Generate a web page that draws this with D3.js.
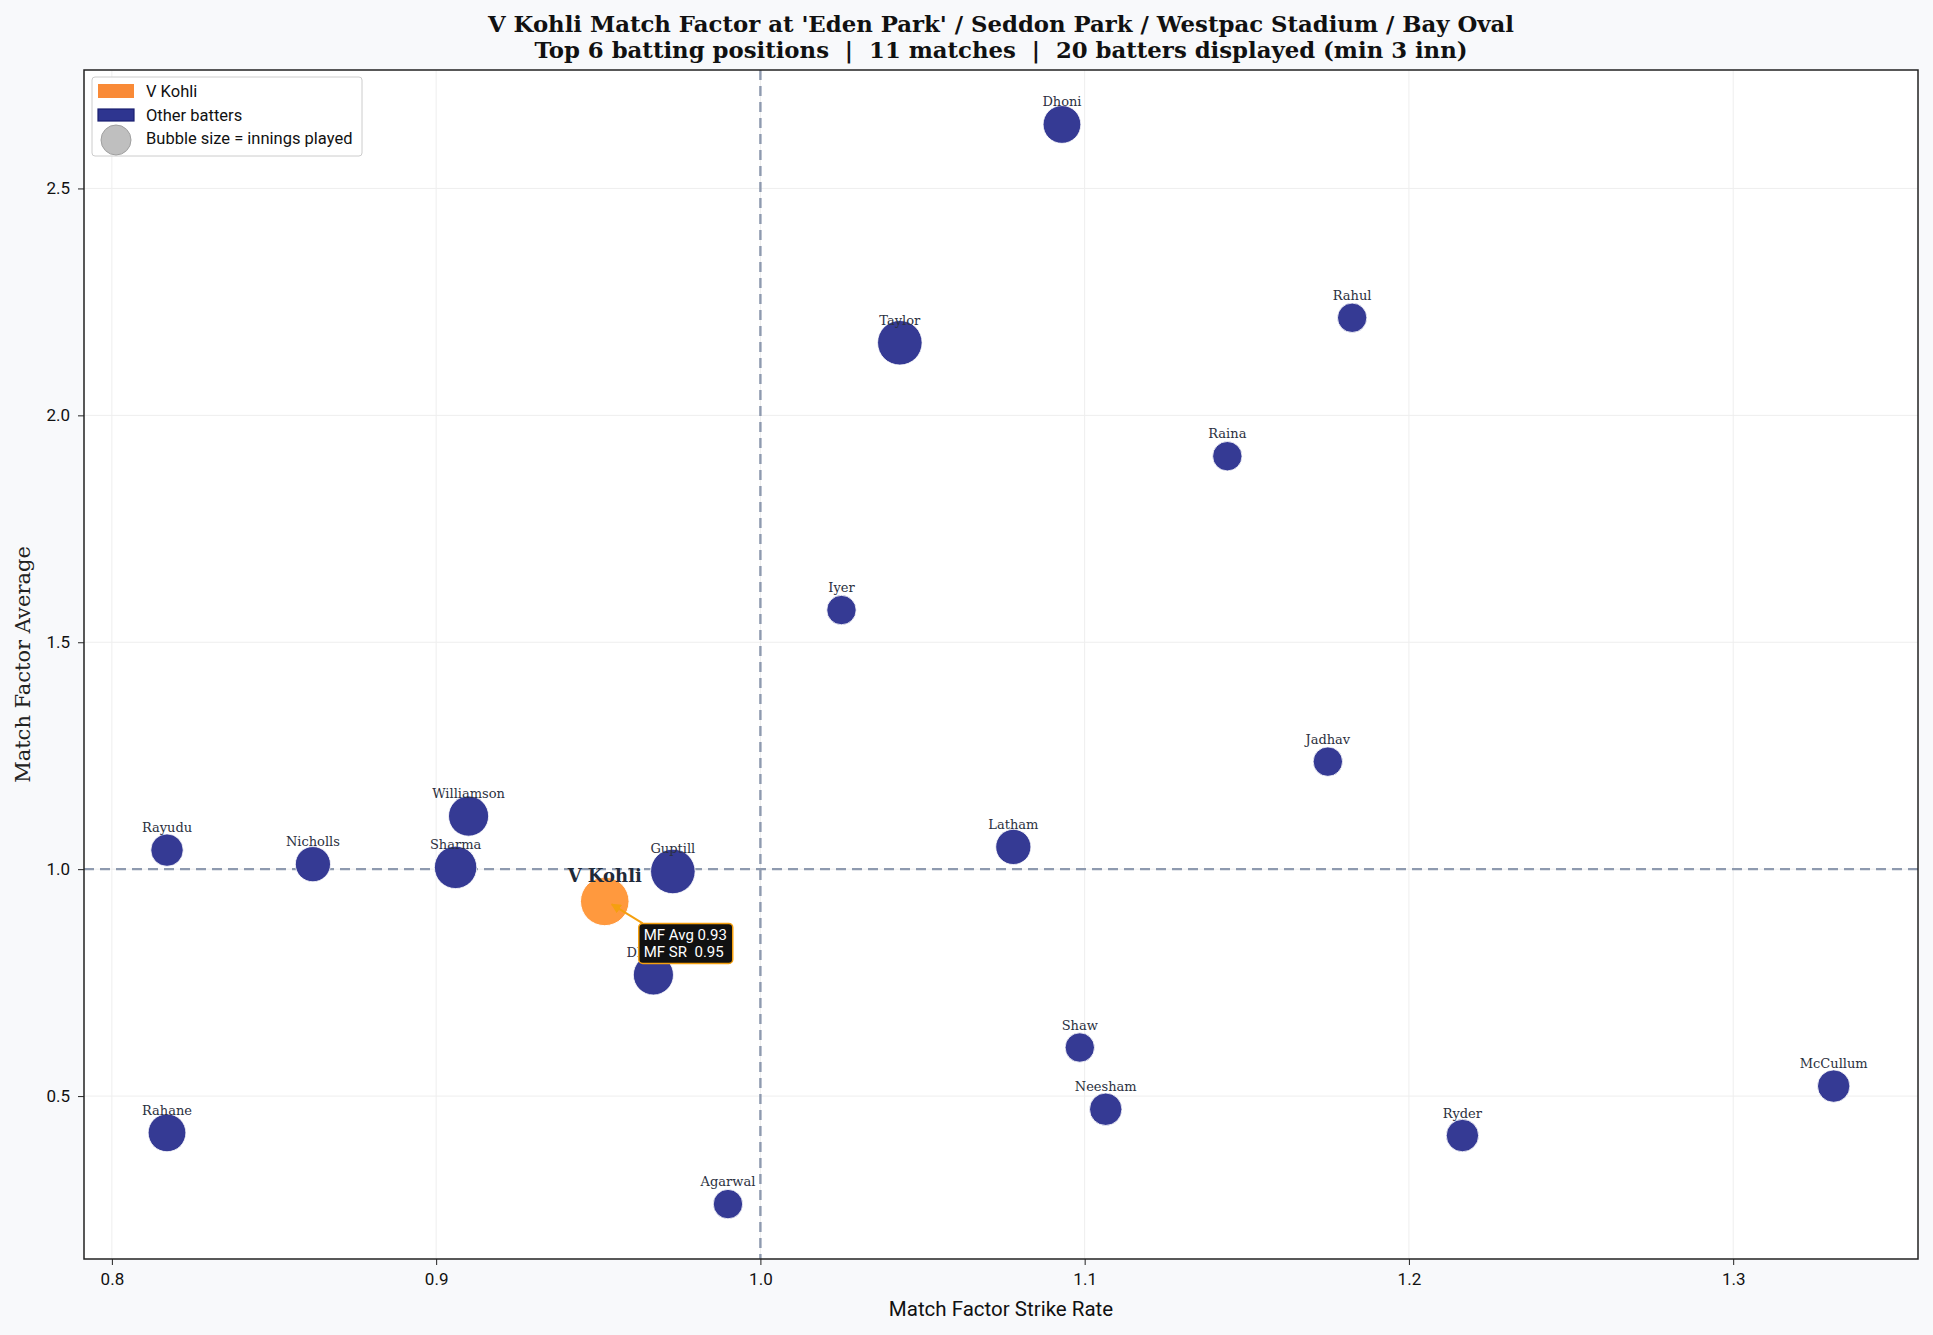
<!DOCTYPE html>
<html>
<head>
<meta charset="utf-8">
<script src="https://cdn.jsdelivr.net/npm/d3@7"></script>
<style>
  html, body { margin: 0; padding: 0; background: #f8f9fb; }
  svg { display: block; }
</style>
</head>
<body>
<div id="chart"></div>
<script>
// batter names, match factor strike rate (x), match factor average (y), innings
const players = ['V Kohli', 'Dhoni', 'Taylor', 'Rahul', 'Raina', 'Iyer', 'Jadhav', 'Williamson', 'Latham',
  'Rayudu', 'Nicholls', 'Sharma', 'Guptill', 'Dhawan', 'Shaw', 'Neesham', 'McCullum', 'Rahane', 'Ryder', 'Agarwal'];
const mfSR = [0.952, 1.093, 1.043, 1.1825, 1.144, 1.025, 1.175, 0.910, 1.078,
  0.817, 0.862, 0.906, 0.973, 0.967, 1.0985, 1.1065, 1.331, 0.817, 1.2165, 0.990];
const mfAvg = [0.929, 2.641, 2.160, 2.215, 1.910, 1.571, 1.237, 1.117, 1.049,
  1.042, 1.011, 1.004, 0.995, 0.767, 0.607, 0.471, 0.522, 0.419, 0.413, 0.262];
const innings = [11, 6, 9, 3, 3, 3, 3, 7, 5,
  4, 5, 8, 9, 7, 3, 4, 4, 6, 4, 3];
const xTicks = [0.8, 0.9, 1.0, 1.1, 1.2, 1.3];
const yTicks = [0.5, 1.0, 1.5, 2.0, 2.5];
const titleLines = ["V Kohli Match Factor at 'Eden Park' / Seddon Park / Westpac Stadium / Bay Oval",
  'Top 6 batting positions  |  11 matches  |  20 batters displayed (min 3 inn)'];

const W = 1933, H = 1335;
const plot = { left: 84, right: 1918, top: 70, bottom: 1259 };
const sans = 'Roboto, "DejaVu Sans", sans-serif';
const serif = '"DejaVu Serif", serif';

const svg = d3.select('#chart').append('svg')
  .attr('width', W)
  .attr('height', H);

svg.append('rect').attr('width', W).attr('height', H).attr('fill', '#f8f9fb');

const x = d3.scaleLinear().domain([0.7914, 1.357]).range([plot.left, plot.right]);
const y = d3.scaleLinear().domain([0.141, 2.761]).range([plot.bottom, plot.top]);
// marker area grows linearly with innings
const area = d3.scaleLinear().domain([3, 11]).range([216, 590]);
const radius = n => Math.sqrt(area(n));

svg.append('rect')
  .attr('x', plot.left).attr('y', plot.top)
  .attr('width', plot.right - plot.left).attr('height', plot.bottom - plot.top)
  .attr('fill', '#ffffff');

// grid
const grid = svg.append('g');
grid.selectAll('.gx').data(xTicks).enter().append('line')
  .attr('x1', d => x(d)).attr('x2', d => x(d))
  .attr('y1', plot.top).attr('y2', plot.bottom)
  .attr('stroke', '#eeeeee').attr('stroke-width', 1);
grid.selectAll('.gy').data(yTicks).enter().append('line')
  .attr('x1', plot.left).attr('x2', plot.right)
  .attr('y1', d => y(d)).attr('y2', d => y(d))
  .attr('stroke', '#eeeeee').attr('stroke-width', 1);

// reference lines at 1.0
svg.append('line')
  .attr('x1', x(1.0)).attr('x2', x(1.0))
  .attr('y1', plot.top).attr('y2', plot.bottom)
  .attr('stroke', '#8e9aaf').attr('stroke-width', 2.4).attr('stroke-dasharray', '10,6');
svg.append('line')
  .attr('x1', plot.left).attr('x2', plot.right)
  .attr('y1', y(1.0)).attr('y2', y(1.0))
  .attr('stroke', '#8e9aaf').attr('stroke-width', 2.4).attr('stroke-dasharray', '10,6');

const data = players.map((p, i) => ({ name: p, sr: mfSR[i], avg: mfAvg[i], inn: innings[i] }));
const others = data.filter(d => d.name !== 'V Kohli');
const kohli = data.find(d => d.name === 'V Kohli');

const pts = svg.append('g');
pts.selectAll('circle.other').data(others).enter().append('circle')
  .attr('class', 'other')
  .attr('cx', d => x(d.sr)).attr('cy', d => y(d.avg))
  .attr('r', d => radius(d.inn))
  .attr('fill', '#353a94')
  .attr('stroke', '#ffffff').attr('stroke-width', 1).attr('stroke-opacity', 0.8);

pts.selectAll('text.lbl').data(others).enter().append('text')
  .attr('class', 'lbl')
  .attr('x', d => x(d.sr)).attr('y', d => y(d.avg) - 18)
  .attr('text-anchor', 'middle')
  .attr('font-family', serif).attr('font-size', 13)
  .attr('fill', '#2b3040')
  .text(d => d.name);

pts.append('circle')
  .attr('cx', x(kohli.sr)).attr('cy', y(kohli.avg))
  .attr('r', radius(kohli.inn))
  .attr('fill', '#ff7f0e').attr('fill-opacity', 0.8)
  .attr('stroke', '#ffffff').attr('stroke-width', 1);

pts.append('text')
  .attr('x', x(kohli.sr)).attr('y', y(kohli.avg) - 19)
  .attr('text-anchor', 'middle')
  .attr('font-family', serif).attr('font-size', 18).attr('font-weight', 'bold')
  .attr('fill', '#1f2a3a')
  .text('V Kohli');

// annotation box with arrow
const bx = x(kohli.sr) + 34, by = y(kohli.avg) + 22;
svg.append('defs').append('marker')
  .attr('id', 'arrow').attr('viewBox', '0 0 10 10')
  .attr('refX', 9).attr('refY', 5)
  .attr('markerWidth', 5).attr('markerHeight', 5)
  .attr('orient', 'auto')
  .append('path').attr('d', 'M0,0 L10,5 L0,10 z').attr('fill', '#f5a00f');
svg.append('line')
  .attr('x1', bx + 4).attr('y1', by)
  .attr('x2', x(kohli.sr) + 7).attr('y2', y(kohli.avg) + 3)
  .attr('stroke', '#f5a00f').attr('stroke-width', 2)
  .attr('marker-end', 'url(#arrow)');
svg.append('rect')
  .attr('x', bx).attr('y', by)
  .attr('width', 94).attr('height', 40).attr('rx', 4)
  .attr('fill', '#111111').attr('stroke', '#f5a00f').attr('stroke-width', 1.5);
svg.append('text')
  .attr('x', bx + 5).attr('y', by + 17)
  .attr('font-family', sans).attr('font-size', 15).attr('fill', '#ffffff')
  .text('MF Avg 0.93');
svg.append('text')
  .attr('x', bx + 5).attr('y', by + 34)
  .attr('font-family', sans).attr('font-size', 15).attr('fill', '#ffffff')
  .attr('xml:space', 'preserve')
  .text('MF SR  0.95');

// axes
const xAxis = svg.append('g')
  .attr('transform', `translate(0,${plot.bottom})`)
  .call(d3.axisBottom(x).tickValues(xTicks).tickFormat(d3.format('.1f')).tickSize(6).tickPadding(8));
const yAxis = svg.append('g')
  .attr('transform', `translate(${plot.left},0)`)
  .call(d3.axisLeft(y).tickValues(yTicks).tickFormat(d3.format('.1f')).tickSize(6).tickPadding(8));
[xAxis, yAxis].forEach(a => {
  a.select('.domain').remove();
  a.selectAll('text').attr('font-family', sans).attr('font-size', 17).attr('fill', '#111111');
  a.selectAll('line').attr('stroke', '#222222');
});

// frame
svg.append('rect')
  .attr('x', plot.left).attr('y', plot.top)
  .attr('width', plot.right - plot.left).attr('height', plot.bottom - plot.top)
  .attr('fill', 'none').attr('stroke', '#222222').attr('stroke-width', 1.5);

svg.append('text')
  .attr('x', (plot.left + plot.right) / 2).attr('y', 1316)
  .attr('text-anchor', 'middle')
  .attr('font-family', sans).attr('font-size', 20.5).attr('fill', '#111111')
  .text('Match Factor Strike Rate');
svg.append('text')
  .attr('transform', `translate(30,${(plot.top + plot.bottom) / 2}) rotate(-90)`)
  .attr('text-anchor', 'middle')
  .attr('font-family', serif).attr('font-size', 21).attr('fill', '#222222')
  .text('Match Factor Average');

svg.selectAll('text.title').data(titleLines).enter().append('text')
  .attr('class', 'title')
  .attr('x', (plot.left + plot.right) / 2)
  .attr('y', (d, i) => 32 + i * 26)
  .attr('text-anchor', 'middle')
  .attr('font-family', serif).attr('font-size', 22.8).attr('font-weight', 'bold')
  .attr('fill', '#111111')
  .attr('xml:space', 'preserve')
  .text(d => d);

// legend
const lg = svg.append('g').attr('transform', 'translate(92,77)');
lg.append('rect')
  .attr('width', 270).attr('height', 79).attr('rx', 3)
  .attr('fill', '#ffffff').attr('fill-opacity', 0.85)
  .attr('stroke', '#cccccc').attr('stroke-width', 1);
lg.append('rect').attr('x', 6).attr('y', 7).attr('width', 36).attr('height', 14)
  .attr('fill', '#f98a37');
lg.append('rect').attr('x', 6).attr('y', 32).attr('width', 36).attr('height', 12)
  .attr('fill', '#2e3590').attr('stroke', '#1a1f70').attr('stroke-width', 1.2);
lg.append('circle').attr('cx', 24).attr('cy', 63).attr('r', 15)
  .attr('fill', '#bfbfbf').attr('stroke', '#a0a0a0').attr('stroke-width', 1);
const legendText = ['V Kohli', 'Other batters', 'Bubble size = innings played'];
lg.selectAll('text').data(legendText).enter().append('text')
  .attr('x', 54).attr('y', (d, i) => 20 + i * 23.5)
  .attr('font-family', sans).attr('font-size', 16.5).attr('fill', '#111111')
  .text(d => d);
</script>
</body>
</html>
